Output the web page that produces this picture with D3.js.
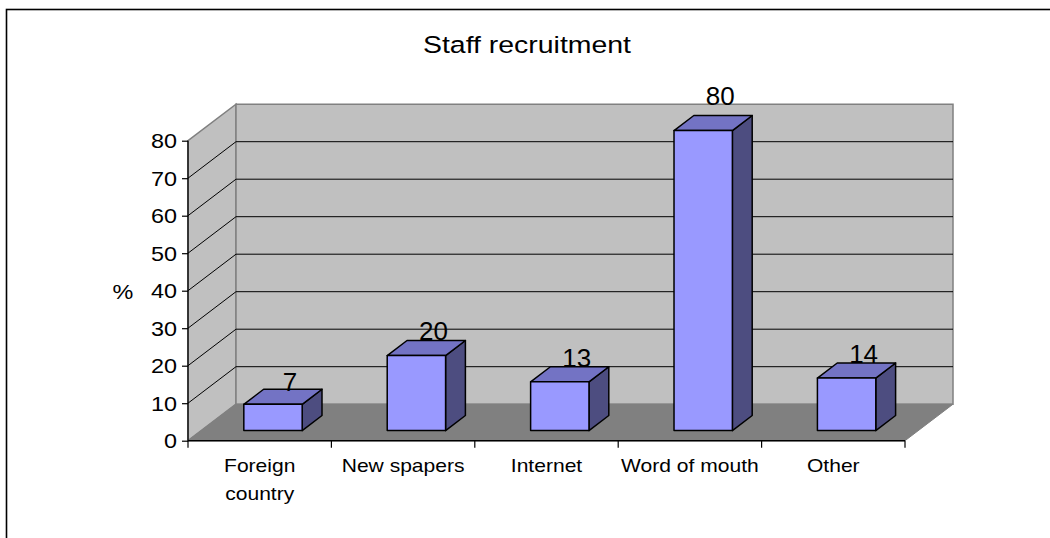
<!DOCTYPE html>
<html>
<head>
<meta charset="utf-8">
<script src="https://cdn.jsdelivr.net/npm/d3@7/dist/d3.min.js"></script>
<style>
  html, body { margin: 0; padding: 0; background: #fff; }
  svg { display: block; }
  text { font-family: "Liberation Sans", Arial, sans-serif; fill: #000; }
</style>
</head>
<body>
<svg id="chart" width="1050" height="538"></svg>
<script>
// Survey answers: how staff were recruited (% of respondents)
const categories = ["Foreign country", "New spapers", "Internet", "Word of mouth", "Other"];
const values = [7, 20, 13, 80, 14];
const yTicks = [0, 10, 20, 30, 40, 50, 60, 70, 80];
const titleText = "Staff recruitment";
const yAxisTitle = "%";

const svg = d3.select("#chart");
const W = 1050, H = 538;

// outer chart frame
svg.append("rect")
  .attr("x", 6.5).attr("y", 9.5)
  .attr("width", W + 20).attr("height", H + 20)
  .attr("fill", "#fff").attr("stroke", "#000").attr("stroke-width", 1.6);

const stretch = 1.17; // horizontal stretch applied to text glyphs

// 3D box geometry: front plane plus an oblique depth offset
const front = { left: 188, right: 905 };
const depth = { dx: 48, dy: -36.5 };

const x = d3.scaleBand().domain(categories).range([front.left, front.right]);
const y = d3.scaleLinear().domain([0, 80]).range([440.7, 140.7]);

const P = (px, py, f) => [px + depth.dx * f, py + depth.dy * f];
const poly = pts => "M" + pts.map(p => p.join(",")).join("L") + "Z";

const y0 = y(0), yMax = y(80);
const walls = svg.append("g");

// left side wall
walls.append("path")
  .attr("d", poly([[front.left, y0], [front.left, yMax], P(front.left, yMax, 1), P(front.left, y0, 1)]))
  .attr("fill", "#c0c0c0").attr("stroke", "#808080").attr("stroke-width", 1.5);
// back wall
walls.append("path")
  .attr("d", poly([P(front.left, yMax, 1), P(front.right, yMax, 1), P(front.right, y0, 1), P(front.left, y0, 1)]))
  .attr("fill", "#c0c0c0").attr("stroke", "#808080").attr("stroke-width", 1.5);
// floor
walls.append("path")
  .attr("d", poly([[front.left, y0], [front.right, y0], P(front.right, y0, 1), P(front.left, y0, 1)]))
  .attr("fill", "#808080").attr("stroke", "#808080").attr("stroke-width", 1);

// gridlines on the side and back walls
const grid = svg.append("g").attr("stroke", "#000").attr("stroke-width", 1);
yTicks.filter(t => t > 0 && t < 80).forEach(t => {
  const a = [front.left, y(t)], b = P(front.left, y(t), 1), c = P(front.right, y(t), 1);
  grid.append("path").attr("d", "M" + a + "L" + b + "L" + c).attr("fill", "none");
});

// value axis
const axisY = svg.append("g").attr("transform", `translate(${front.left},0)`)
  .call(d3.axisLeft(y).tickValues(yTicks).tickSize(6).tickFormat(d3.format("d")));
axisY.select(".domain").attr("stroke", "#000").attr("stroke-width", 1.3).attr("d", `M0,${y0}V${yMax}`);
axisY.selectAll(".tick line").attr("stroke", "#000").attr("stroke-width", 1.2);
axisY.selectAll(".tick text")
  .attr("x", null).attr("dy", null)
  .attr("font-size", 20).attr("text-anchor", "end")
  .attr("transform", `translate(-11,7) scale(${stretch},1)`);

// category axis along the front edge of the floor
const boundaries = categories.map(c => x(c)).concat([front.right]);
const axisX = svg.append("g");
axisX.append("line")
  .attr("x1", front.left).attr("x2", front.right).attr("y1", y0).attr("y2", y0)
  .attr("stroke", "#000").attr("stroke-width", 1.5);
axisX.selectAll("line.tick").data(boundaries).join("line")
  .attr("class", "tick")
  .attr("x1", d => d).attr("x2", d => d).attr("y1", y0).attr("y2", y0 + 7)
  .attr("stroke", "#000").attr("stroke-width", 1.2);

const catLabels = axisX.selectAll("text").data(categories).join("text")
  .attr("font-size", 18).attr("text-anchor", "middle")
  .attr("transform", d => `translate(${x(d) + x.bandwidth() / 2},${y0 + 31.5}) scale(${stretch},1)`);
catLabels.each(function (d) {
  const words = d === "Foreign country" ? ["Foreign", "country"] : [d];
  d3.select(this).selectAll("tspan").data(words).join("tspan")
    .attr("x", 0).attr("dy", (w, i) => i === 0 ? 0 : 28).text(w => w);
});

// bars as oblique boxes
const barFrac = 0.407;          // bar width as a share of the band
const dFront = 0.277, dBack = 0.69; // bar depth span within the floor
const bw = x.bandwidth() * barFrac;
const bars = svg.append("g").attr("stroke", "#000").attr("stroke-width", 1.5).attr("stroke-linejoin", "round");
categories.forEach((c, i) => {
  const cx = x(c) + x.bandwidth() / 2;
  const xl = cx - bw / 2, xr = cx + bw / 2;
  const yb = y(0), yt = y(values[i]);
  const fl = P(xl, yt, dFront), fr = P(xr, yt, dFront);
  const flb = P(xl, yb, dFront), frb = P(xr, yb, dFront);
  const bl = P(xl, yt, dBack), br = P(xr, yt, dBack), brb = P(xr, yb, dBack);
  const g = bars.append("g");
  g.append("path").attr("d", poly([fr, br, brb, frb])).attr("fill", "#4d4d80");
  g.append("path").attr("d", poly([fl, bl, br, fr])).attr("fill", "#7373c4");
  g.append("path").attr("d", poly([fl, fr, frb, flb])).attr("fill", "#9999ff");
});

// value labels above each bar
const labelY = d3.scaleLinear().domain([0, 80]).range([418, 105]);
svg.append("g").selectAll("text").data(values).join("text")
  .attr("x", (d, i) => x(categories[i]) + x.bandwidth() / 2 + depth.dx * dFront + 17)
  .attr("y", d => labelY(d))
  .attr("font-size", 26).attr("text-anchor", "middle")
  .text(d => d);

// value axis title
svg.append("text")
  .attr("transform", `translate(123,299) scale(${stretch},1)`)
  .attr("font-size", 20).attr("text-anchor", "middle").text(yAxisTitle);

// chart title
svg.append("text")
  .attr("transform", `translate(527,53) scale(${stretch},1)`)
  .attr("font-size", 24.3).attr("text-anchor", "middle").text(titleText);
</script>
</body>
</html>
